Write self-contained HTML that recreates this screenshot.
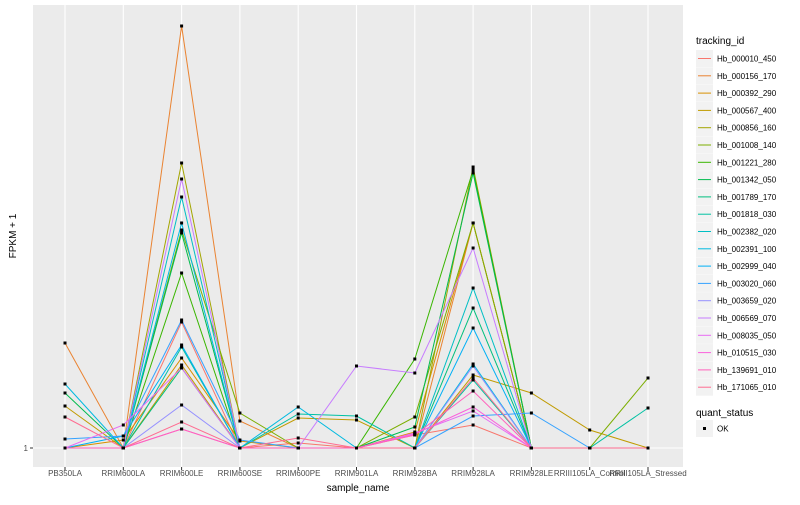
<!DOCTYPE html>
<html><head><meta charset="utf-8"><style>
body{margin:0;background:#fff;font-family:"Liberation Sans",sans-serif}
svg text{font-family:"Liberation Sans",sans-serif}
</style></head><body>
<svg id="c" width="800" height="500" xmlns="http://www.w3.org/2000/svg"></svg>
<script>
const categories=["PB350LA","RRIM600LA","RRIM600LE","RRIM600SE","RRIM600PE","RRIM901LA","RRIM928BA","RRIM928LA","RRIM928LE","RRIII105LA_Control","RRIII105LA_Stressed"];
const seriesNames=["Hb_000010_450","Hb_000156_170","Hb_000392_290","Hb_000567_400","Hb_000856_160","Hb_001008_140","Hb_001221_280","Hb_001342_050","Hb_001789_170","Hb_001818_030","Hb_002382_020","Hb_002391_100","Hb_002999_040","Hb_003020_060","Hb_003659_020","Hb_006569_070","Hb_008035_050","Hb_010515_030","Hb_139691_010","Hb_171065_010"];
const seriesColors=["#F8766D","#EA8331","#D89000","#C09B00","#A3A500","#7CAE00","#39B600","#00BB4E","#00BF7D","#00C1A3","#00BFC4","#00BAE0","#00B0F6","#35A2FF","#9590FF","#C77CFF","#E76BF3","#FA62DB","#FF62BC","#FF6C91"];
const s0=[1,1,32.5,1,2.25,1,4.25,6.75,1,1,1];
const s1=[27.25,1,106.5,7.75,1,1,1,57.25,1,1,1];
const s2=[1,3,23.5,2.75,1,1,5,57.25,1,1,1];
const s3=[11.5,1,21.75,1,8.5,8,1,19.25,14.75,5.5,1];
const s4=[1,1,72.25,1,1,1,1,71.25,1,1,1];
const s5=[1,1,55.5,9.75,1,1,8.75,57.25,1,1,18.5];
const s6=[1,1,44.75,1,1,1,23.25,70.5,1,1,1];
const s7=[14.75,1,54.75,1,1,1,6.25,69.75,1,1,1];
const s8=[1,1,21,1,1,1,1,36,1,1,1];
const s9=[1,1,26.25,1,9.5,9,1,18,1,1,11];
const s10=[1,1,63.75,1,1,1,1,41,1,1,1];
const s11=[17,1,57.25,1,11.25,1,1,22,1,1,1];
const s12=[1,4,26.75,1,1,1,1,31,1,1,1];
const s13=[3.25,4,33,3,1,1,1,9,9.75,1,1];
const s14=[1,1,11.75,1,1,1,1,21.5,1,1,1];
const s15=[1,1,68.25,1,1,21.5,19.75,51,1,1,1];
const s16=[1,6.75,21,1,1,1,4.75,10.25,1,1,1];
const s17=[1,1,5.75,1,1,1,4.5,11.25,1,1,1];
const s18=[1,1,5.75,1,1,1,4.25,15.25,1,1,1];
const s19=[8.75,1,7.5,1,3.5,1,1,18.5,1,1,1];
const seriesValues=[s0,s1,s2,s3,s4,s5,s6,s7,s8,s9,s10,s11,s12,s13,s14,s15,s16,s17,s18,s19];
const yTicks=[1];

const NS="http://www.w3.org/2000/svg";
const svg=document.getElementById('c');
const P={l:33,r:683,t:5,b:467};
function x(i){return 65+i*58.3;}
function y(v){return 448-(v-1)*4;}
function mk(tag,at,parent){const e=document.createElementNS(NS,tag);for(const k in at)e.setAttribute(k,at[k]);(parent||svg).appendChild(e);return e;}

const panel=mk('rect',{x:P.l,y:P.t,width:P.r-P.l,height:P.b-P.t,fill:'#EBEBEB'});


categories.forEach((c,i)=>{
  const g=mk('line',{x1:x(i),x2:x(i),y1:P.t,y2:P.b,stroke:'#fff','stroke-width':1.1});
  
  
  const t=mk('line',{x1:x(i),x2:x(i),y1:P.b,y2:P.b+3,stroke:'#333','stroke-width':1});
  
  
  const l=mk('text',{x:x(i),y:P.b+9,'font-size':8,fill:'#4D4D4D','text-anchor':'middle'});
  l.textContent=c;
  
  
});
yTicks.forEach(v=>{
  const g=mk('line',{x1:P.l,x2:P.r,y1:y(v),y2:y(v),stroke:'#fff','stroke-width':1.1});
  
  
  const t=mk('line',{x1:P.l-3,x2:P.l,y1:y(v),y2:y(v),stroke:'#333'});
  
  
  const l=mk('text',{x:P.l-5,y:y(v)+3,'font-size':8,fill:'#4D4D4D','text-anchor':'end'});
  l.textContent=v;
  
  
});
seriesValues.forEach((vals,si)=>{
  const pl=mk('polyline',{points:vals.map((v,i)=>x(i)+','+y(v)).join(' '),fill:'none',stroke:seriesColors[si],'stroke-width':1});
  
  
});
seriesValues.forEach((vals,si)=>{
  vals.forEach((v,i)=>{
    const p=mk('rect',{x:x(i)-1.5,y:y(v)-1.5,width:3,height:3,fill:'#000'});
    
    
  });
});
const xt=mk('text',{x:358,y:491,'font-size':10,fill:'#000','text-anchor':'middle'});
xt.textContent='sample_name';


const yt=mk('text',{x:0,y:0,'font-size':10,fill:'#000','text-anchor':'middle',transform:'translate(16,236) rotate(-90)'});
yt.textContent='FPKM + 1';



const lt=mk('text',{x:696,y:44,'font-size':10,fill:'#000'});
lt.textContent='tracking_id';


seriesNames.forEach((n,i)=>{
  const yy=50+i*17.3;
  const b=mk('rect',{x:696,y:yy,width:17,height:17,fill:'#F2F2F2'});
  
  
  const ln=mk('line',{x1:698,x2:711,y1:yy+8.5,y2:yy+8.5,stroke:seriesColors[i],'stroke-width':1});
  
  
  const t=mk('text',{x:717,y:yy+11.5,'font-size':8,fill:'#000'});
  t.textContent=n;
  
  
});
const qt=mk('text',{x:696,y:416,'font-size':10,fill:'#000'});
qt.textContent='quant_status';


const qb=mk('rect',{x:696,y:420,width:17,height:17,fill:'#F2F2F2'});


const qp=mk('rect',{x:703,y:427,width:3,height:3,fill:'#000'});


const qx=mk('text',{x:717,y:431.5,'font-size':8,fill:'#000'});
qx.textContent='OK';


</script>
</body></html>
